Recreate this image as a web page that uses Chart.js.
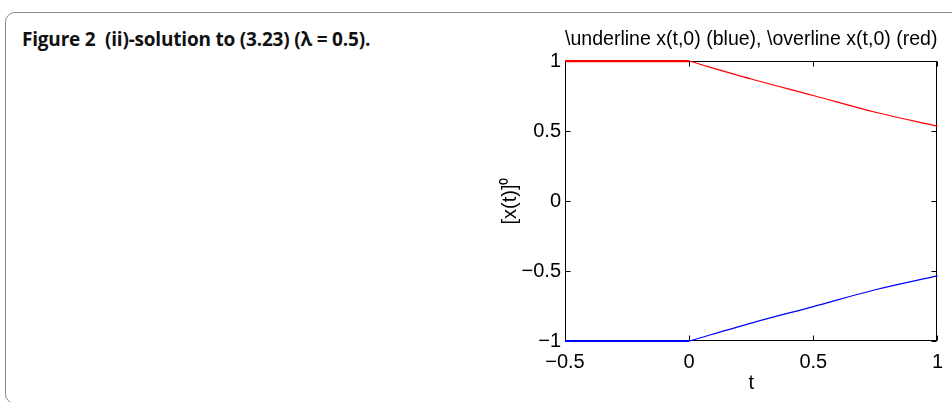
<!DOCTYPE html>
<html>
<head>
<meta charset="utf-8">
<script src="https://cdn.jsdelivr.net/npm/chart.js@4.4.0/dist/chart.umd.min.js"></script>
<style>
  html, body { margin: 0; padding: 0; background: #fff; }
  body { width: 952px; height: 402px; position: relative; overflow: hidden; }
  #card { position: absolute; left: 5px; top: 12px; width: 1000px; height: 392px;
          border: 1px solid #8a8a8a; border-radius: 10px; box-sizing: border-box; }
  #caption { position: absolute; left: 22px; top: 26px; font-family: "Open Sans", sans-serif;
             font-weight: bold; font-size: 19px; color: #111; white-space: nowrap; letter-spacing: -0.2px; }
  #wrap { position: absolute; left: 0; top: 0; width: 952px; height: 402px; }
</style>
</head>
<body>
<div id="card"></div>
<div id="caption">Figure 2&nbsp; (ii)-solution to (3.23) (λ = 0.5).</div>
<div id="wrap"><canvas id="c" width="952" height="402"></canvas></div>
<script>
// ---- data ----
const chartTitle = "\\underline x(t,0) (blue), \\overline x(t,0) (red)";
const xLabel = "t";
const yLabel = "[x(t)]\u2070";
const xTicks = [-0.5, 0, 0.5, 1];
const yTicks = [-1, -0.5, 0, 0.5, 1];
const tFlat = [-0.5, 0];
const upperFlat = [1, 1];
const lowerFlat = [-1, -1];
const tCurve = [0, 0.25, 0.5, 0.75, 1];
const upperCurve = [1, 0.872, 0.754, 0.634, 0.535];
const lowerCurve = [-1, -0.872, -0.754, -0.634, -0.535];

const pts = (xs, ys) => xs.map((x, i) => ({x: x, y: ys[i]}));
const fmt = v => (v < 0 ? '\u2212' + Math.abs(v) : String(v));
const FONT = "'Liberation Sans', Arial, sans-serif";
const FS = 20;

const boxPlugin = {
  id: 'box',
  beforeDatasetsDraw(chart) {
    const {ctx, chartArea: a, scales: {x, y}} = chart;
    ctx.save();
    ctx.strokeStyle = '#000';
    ctx.lineWidth = 1;
    const L = Math.round(a.left) + 0.5, R = Math.round(a.right) - 0.5;
    const T = Math.round(a.top) + 0.5, B = Math.round(a.bottom) - 0.5;
    ctx.strokeRect(L, T, R - L, B - T);
    const len = 5;
    ctx.beginPath();
    xTicks.forEach(v => {
      const px = Math.round(x.getPixelForValue(v)) + 0.5;
      ctx.moveTo(px, B); ctx.lineTo(px, B - len);
      ctx.moveTo(px, T); ctx.lineTo(px, T + len);
    });
    yTicks.forEach(v => {
      const py = Math.round(y.getPixelForValue(v)) + 0.5;
      ctx.moveTo(L, py); ctx.lineTo(L + len, py);
      ctx.moveTo(R, py); ctx.lineTo(R - len, py);
    });
    ctx.stroke();
    ctx.restore();
  }
};

new Chart(document.getElementById('c'), {
  type: 'line',
  data: {
    datasets: [
      {data: pts(tCurve, lowerCurve), borderColor: '#0000ff', borderWidth: 1.2, cubicInterpolationMode: 'monotone', pointRadius: 0, clip: false},
      {data: pts(tCurve, upperCurve), borderColor: '#ff0000', borderWidth: 1.2, cubicInterpolationMode: 'monotone', pointRadius: 0, clip: false},
      {data: pts(tFlat, lowerFlat), borderColor: '#0000ff', borderWidth: 2.2, pointRadius: 0, clip: false},
      {data: pts(tFlat, upperFlat), borderColor: '#ff0000', borderWidth: 2.2, pointRadius: 0, clip: false}
    ]
  },
  options: {
    responsive: false,
    animation: false,
    layout: {padding: {left: 495, right: 11, top: 0, bottom: 0}},
    plugins: {
      legend: {display: false},
      tooltip: {enabled: false},
      title: {
        display: true, fullSize: false, text: chartTitle, color: '#000',
        font: {family: FONT, size: 19.7, weight: 'normal', lineHeight: 1.2},
        padding: {top: 28, bottom: 9.4}
      }
    },
    scales: {
      x: {
        type: 'linear', min: -0.5, max: 1,
        afterBuildTicks: s => { s.ticks = xTicks.map(v => ({value: v})); },
        afterFit: s => { s.height = 61; },
        grid: {display: false, drawTicks: false},
        border: {display: false},
        ticks: {color: '#000', font: {family: FONT, size: FS}, padding: 9, maxRotation: 0, callback: v => fmt(v)},
        title: {display: true, text: xLabel, color: '#000', font: {family: FONT, size: FS, lineHeight: 1.2}, padding: {top: 0, bottom: 7}}
      },
      y: {
        type: 'linear', min: -1, max: 1,
        afterBuildTicks: s => { s.ticks = yTicks.map(v => ({value: v})); },
        afterFit: s => { s.width = 70; },
        grid: {display: false, drawTicks: false},
        border: {display: false},
        ticks: {color: '#000', font: {family: FONT, size: FS}, padding: 4, callback: v => fmt(v)},
        title: {display: true, text: yLabel, color: '#000', font: {family: FONT, size: FS, lineHeight: 1.2}, padding: {top: 3.5, bottom: 0}}
      }
    }
  },
  plugins: [boxPlugin]
});
</script>
</body>
</html>
